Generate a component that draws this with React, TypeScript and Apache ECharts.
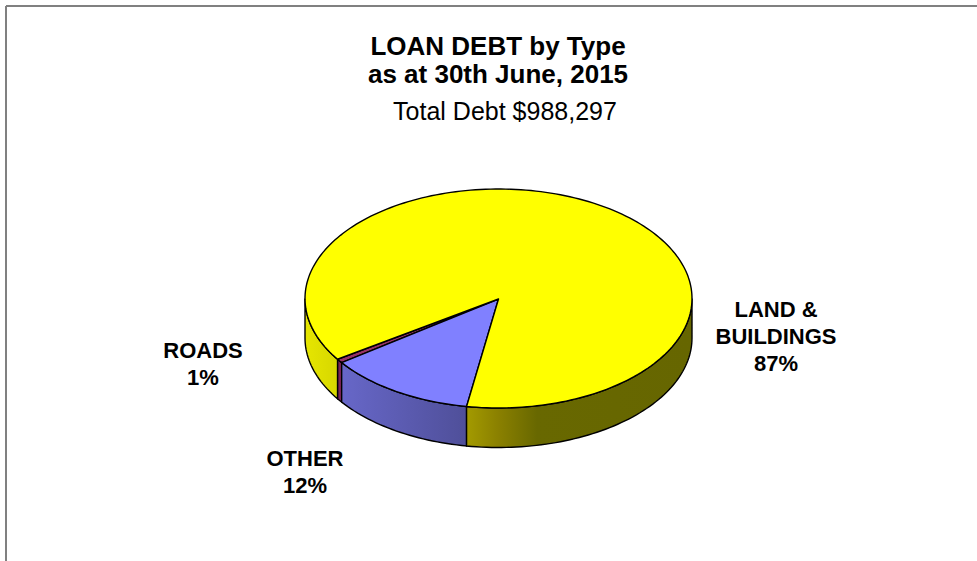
import React, { useEffect, useRef } from "react";
import * as echarts from "echarts";

const categories = ["LAND &\nBUILDINGS", "OTHER", "ROADS"];
const shares = [87.0, 12.4, 0.6];
const topColors = ["#FFFF00", "#8080FF", "#993366"];
const wallStops: [number, string][][] = [
  [[0, "#E6E600"], [0.09, "#D6D600"], [0.419, "#A39A00"], [0.5, "#8A8000"], [0.6, "#686800"], [1, "#666600"]],
  [[0, "#6E6ED6"], [0.42, "#4F4F99"], [1, "#4F4F99"]],
  [[0, "#7A2358"], [1, "#7A2358"]],
];
const titleLines = ["LOAN DEBT by Type", "as at 30th June, 2015", "Total Debt $988,297"];

const CX = 498.5, CY = 298.5, RX = 193.5, RY = 109.5, DEPTH = 39.5;
const OTHER_START = 189.5; // degrees clockwise from the top where OTHER begins
const LABEL_POS = [[776, 377], [305, 499], [203, 391]];

const total = shares.reduce((a, b) => a + b, 0);
const ang = (v: number) => (v / total) * 360;
// Slice order clockwise: OTHER, ROADS, LAND
function sliceRange(i: number): [number, number] {
  const other = ang(shares[1]), roads = ang(shares[2]), land = ang(shares[0]);
  if (i === 1) return [OTHER_START, OTHER_START + other];
  if (i === 2) return [OTHER_START + other, OTHER_START + other + roads];
  return [OTHER_START + other + roads, OTHER_START + other + roads + land];
}
const pt = (deg: number, dy = 0): number[] => {
  const r = (deg * Math.PI) / 180;
  return [CX + RX * Math.sin(r), CY - RY * Math.cos(r) + dy];
};
function arc(a: number, b: number, dy = 0): number[][] {
  const out: number[][] = [];
  const n = Math.max(2, Math.ceil(Math.abs(b - a) / 1.5));
  for (let k = 0; k <= n; k++) out.push(pt(a + ((b - a) * k) / n, dy));
  return out;
}
// Parts of [a,b] on the front half (90..270, repeating each 360).
function frontParts(a: number, b: number): [number, number][] {
  const out: [number, number][] = [];
  for (const off of [0, 360]) {
    const s = Math.max(a, 90 + off), e = Math.min(b, 270 + off);
    if (e > s) out.push([s, e]);
  }
  return out;
}

export default function App() {
  const ref = useRef<HTMLDivElement>(null);
  useEffect(() => {
    const chart = echarts.init(ref.current!, null, { renderer: "svg" });
    const renderItem = (_p: any, api: any) => {
      const i = api.value(0) as number;
      const [a, b] = sliceRange(i);
      const children: any[] = [];
      const grad = new echarts.graphic.LinearGradient(
        CX - RX, 0, CX + RX, 0,
        wallStops[i].map(([offset, color]) => ({ offset, color })),
        true
      );
      for (const [s, e] of frontParts(a, b)) {
        const pts = [...arc(s, e), ...arc(e, s, DEPTH)];
        children.push({ type: "polygon", shape: { points: pts }, style: { fill: grad, stroke: "#000", lineWidth: 1.4 } });
      }
      children.push({
        type: "polygon",
        shape: { points: [[CX, CY + 0.5], ...arc(a, b)] },
        style: { fill: topColors[i], stroke: "#000", lineWidth: 1.4, lineJoin: "round" },
      });
      const v = api.value(1) as number;
      children.push({
        type: "text",
        style: {
          x: LABEL_POS[i][0], y: LABEL_POS[i][1],
          text: `${categories[i]}\n${Math.round(v)}%`,
          font: "bold 22px 'Liberation Sans'", fill: "#000",
          align: "center", verticalAlign: "bottom", lineHeight: 27,
        },
      });
      return { type: "group", children };
    };
    const t = (text: string, left: number, top: number, fontWeight: string, fontSize: number) => ({
      text, left, top, textAlign: "center", padding: 0,
      textStyle: { fontFamily: "Liberation Sans", fontWeight, fontSize, color: "#000" },
    });
    chart.setOption({
      animation: false,
      backgroundColor: "#fff",
      title: [
        t(titleLines[0], 498, 33, "bold", 26),
        t(titleLines[1], 498, 61, "bold", 26),
        t(titleLines[2], 505, 98, "normal", 25),
      ],
      graphic: [
        { type: "line", shape: { x1: 6, y1: 6, x2: 977, y2: 6 }, style: { stroke: "#808080", lineWidth: 2 } },
        { type: "line", shape: { x1: 6, y1: 6, x2: 6, y2: 561 }, style: { stroke: "#808080", lineWidth: 2 } },
      ],
      series: [
        {
          type: "custom",
          coordinateSystem: "none",
          renderItem,
          data: [[2, shares[2]], [1, shares[1]], [0, shares[0]]],
        },
      ],
    });
    return () => chart.dispose();
  }, []);
  return <div ref={ref} style={{ position: "fixed", left: 0, top: 0, width: 977, height: 561 }} />;
}
